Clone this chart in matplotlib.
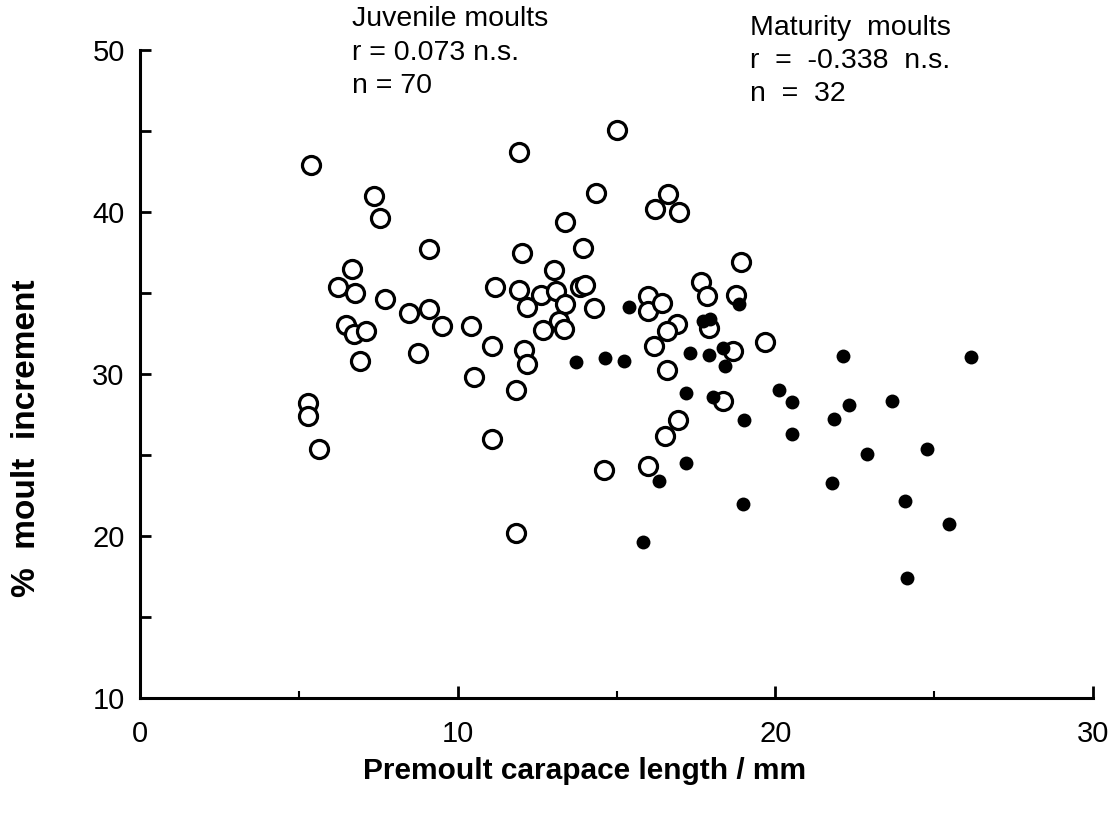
import numpy as np
import matplotlib
matplotlib.use('Agg')
import matplotlib.pyplot as plt

plt.rcParams['font.family'] = ['Liberation Sans', 'DejaVu Sans']

# juvenile moults (open circles)
juv_x = [5.39, 11.94, 14.37, 7.38, 7.55, 13.38, 9.09, 12.02, 13.95, 6.68,
         13.03, 6.24, 6.77, 7.72, 11.18, 11.94, 12.61, 13.11, 13.85, 14.0,
         12.19, 13.38, 14.3, 8.48, 9.09, 6.5, 6.73, 7.11, 9.5, 10.42,
         12.7, 13.2, 13.36, 6.92, 8.74, 11.09, 12.1, 12.17, 10.5, 5.3,
         5.3, 5.64, 11.84, 11.09, 11.83, 14.61, 15.0, 16.63, 16.21, 16.97,
         18.93, 16.0, 16.0, 16.44, 17.65, 17.84, 18.76, 16.89, 16.6, 17.9,
         16.18, 19.67, 18.67, 16.6, 18.34, 16.94, 16.52, 16.0]
juv_y = [42.9, 43.7, 41.2, 41.0, 39.6, 39.4, 37.7, 37.5, 37.8, 36.5,
         36.4, 35.35, 35.0, 34.6, 35.4, 35.2, 34.9, 35.1, 35.4, 35.5,
         34.15, 34.3, 34.05, 33.75, 34.0, 33.0, 32.5, 32.65, 32.96, 32.96,
         32.7, 33.3, 32.75, 30.8, 31.3, 31.7, 31.5, 30.6, 29.8, 28.2,
         27.4, 25.4, 29.0, 26.0, 20.2, 24.07, 45.06, 41.1, 40.2, 40.0,
         36.9, 34.8, 33.9, 34.4, 35.7, 34.8, 34.9, 33.06, 32.65, 32.85,
         31.7, 32.0, 31.4, 30.25, 28.35, 27.16, 26.2, 24.3]

# maturity moults (filled circles)
mat_x = [13.71, 15.4, 18.86, 17.73, 17.95, 14.64, 15.24, 17.3, 17.91, 18.34,
         18.43, 22.14, 17.2, 18.04, 20.11, 20.53, 21.84, 19.01, 20.53, 17.2,
         16.33, 18.99, 21.79, 15.82, 26.17, 22.33, 23.67, 22.9, 24.78, 24.09,
         25.46, 24.16]
mat_y = [30.76, 34.15, 34.35, 33.3, 33.4, 31.0, 30.8, 31.3, 31.2, 31.6,
         30.5, 31.1, 28.8, 28.6, 29.0, 28.3, 27.25, 27.16, 26.3, 24.5,
         23.4, 22.0, 23.3, 19.6, 31.07, 28.1, 28.35, 25.06, 25.4, 22.16,
         20.74, 17.43]

x_ticks = [0, 10, 20, 30]
y_ticks = [10, 20, 30, 40, 50]

fig = plt.figure(figsize=(11.14, 8.23), dpi=100)
ax = fig.add_axes([140/1114, 1-698/823, (1093-140)/1114, (698-50)/823])

ax.plot(juv_x, juv_y, 'o', ms=13, mfc='white', mec='black', mew=2.3, ls='none', clip_on=False)
ax.plot(mat_x, mat_y, 'o', ms=10, mfc='black', mec='black', mew=0, ls='none', clip_on=False)

ax.set_xlim(0, 30)
ax.set_ylim(10, 50)
for s in ['top', 'right']:
    ax.spines[s].set_visible(False)
for s in ['left', 'bottom']:
    ax.spines[s].set_linewidth(2.2)

ax.set_xticks(x_ticks)
ax.set_yticks(y_ticks)
ax.set_xticks([5, 15, 25], minor=True)
ax.set_yticks([15, 25, 35, 45], minor=True)
ax.tick_params(axis='both', which='major', direction='in', width=2, labelsize=21)
ax.tick_params(axis='x', which='major', length=9, pad=16)
ax.tick_params(axis='y', which='major', length=8, pad=11)
ax.tick_params(axis='x', which='minor', direction='in', length=5, width=1.5)
ax.tick_params(axis='y', which='minor', direction='in', length=8, width=2)

ax.set_xlabel('Premoult carapace length / mm', fontsize=21.5, fontweight='bold')
ax.xaxis.set_label_coords((585-140)/953, -(757-698)/648)
ax.set_ylabel('%  moult  increment', fontsize=24, fontweight='bold')
ax.yaxis.set_label_coords((42-140)/953, (698-438)/648)

fig.text(352/1114, 1-6/823, 'Juvenile moults\nr = 0.073 n.s.\nn = 70', fontsize=20.5,
         ha='left', va='top', linespacing=1.38)
fig.text(750/1114, 1-15/823, 'Maturity  moults\nr  =  -0.338  n.s.\nn  =  32', fontsize=20.5,
         ha='left', va='top', linespacing=1.36)

fig.savefig('out.png', dpi=100)
